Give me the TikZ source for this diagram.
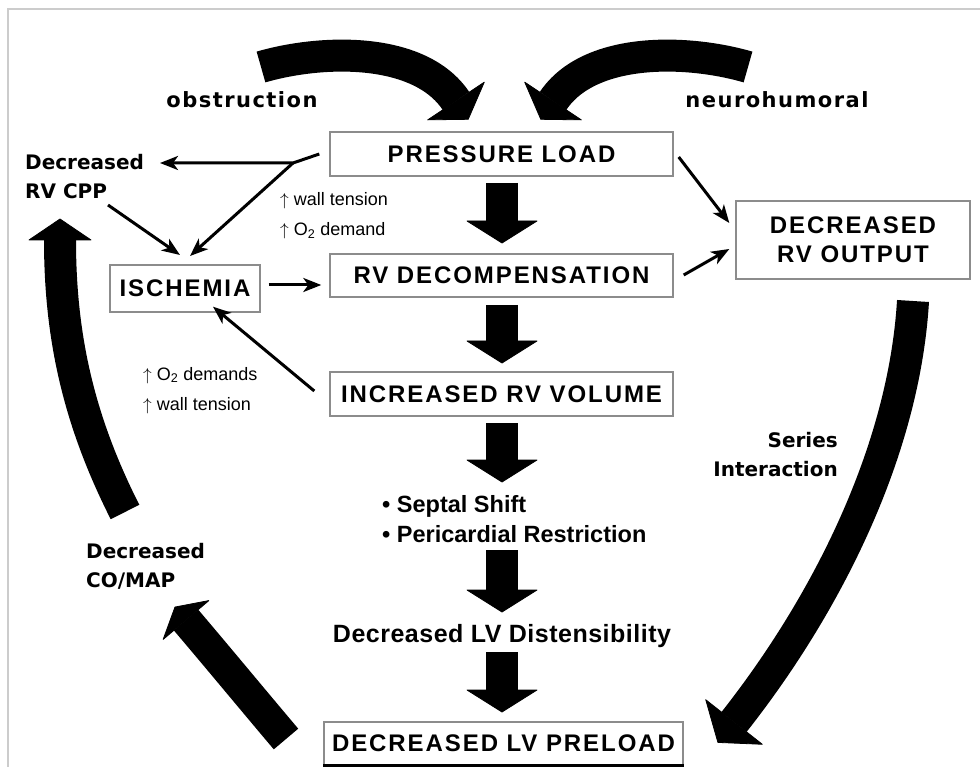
\documentclass[tikz,border=0pt]{standalone}
\usepackage{fontspec}
\setmainfont{Liberation Sans}
\usetikzlibrary{arrows.meta,calc}

% faces for the different label kinds
\newfontfamily\boxface[LetterSpace=8]{Liberation Sans}
\newfontfamily\topface[LetterSpace=7]{DejaVu Sans}
\newfontfamily\labface{DejaVu Sans}
\newfontfamily\midface[LetterSpace=2]{Liberation Sans}

\definecolor{framegray}{HTML}{CCCCCC}
\definecolor{boxgray}{HTML}{8C8C8C}

% broad block arrow: tail, two control points, base of head, half head width, head length
\newcommand\fatcurve[6]{%
  \draw[fatbody] (#1) .. controls (#2) and (#3) .. (#4);
  \fill[fathead] ($(#4)!#5!90:(#3)$) -- ($(#4)!#6!180:(#3)$) -- ($(#4)!#5!-90:(#3)$) -- cycle;}

\begin{document}
\begin{tikzpicture}[x=1pt,y=-1pt,
  box/.style={draw=boxgray,line width=1.4pt,inner sep=0pt,align=center,
    font=\boxface\bfseries\fontsize{24}{29}\selectfont},
  toplab/.style={inner sep=0pt,font=\topface\bfseries\fontsize{21}{29}\selectfont},
  lab/.style={inner sep=0pt,font=\labface\bfseries\fontsize{20}{29}\selectfont},
  midlab/.style={inner sep=0pt,font=\bfseries\fontsize{23.5}{30}\selectfont},
  biglab/.style={inner sep=0pt,font=\midface\bfseries\fontsize{25}{30}\selectfont},
  small/.style={inner sep=0pt,align=left,font=\fontsize{18}{30}\selectfont},
  link/.style={line width=3pt,line join=round,-{Stealth[length=18pt,width=14pt,inset=5pt]}},
  fatbody/.style={line width=32pt},
  fathead/.style={draw=black,line width=0.8pt,line join=round,fill=black}]

\useasboundingbox (0,0) rectangle (980,767);

% outer frame
\draw[framegray,line width=2pt] (8,767) -- (8,9) -- (980,9);

% boxes
\node[box,minimum width=343pt,minimum height=44pt] (pl)   at (501.5,154)   {PRESSURE LOAD};
\node[box,minimum width=343pt,minimum height=43pt] (rvd)  at (501.5,275.5) {RV DECOMPENSATION};
\node[box,minimum width=343pt,minimum height=44pt] (irv)  at (501.5,394)   {INCREASED RV VOLUME};
\node[box,minimum width=150pt,minimum height=47pt] (isch) at (185,288.5)   {ISCHEMIA};
\node[box,minimum width=234pt,minimum height=78pt] (dro)  at (853,240)     {DECREASED\\RV OUTPUT};
\node[box,minimum width=359pt,minimum height=43pt] (dlvp) at (503.5,743.5) {DECREASED LV PRELOAD};
\draw[line width=3pt] (dlvp.south west) -- (dlvp.south east);

% plain labels (multi-line ones are placed by the baseline of their last line)
\node[toplab,anchor=base] (obs)   at (242,108) {obstruction};
\node[toplab,anchor=base] (neuro) at (777,108) {neurohumoral};
\node[lab,anchor=base west,align=left]  (cpp)    at (25,199)  {Decreased\\RV CPP};
\node[lab,anchor=base west,align=left]  (comap)  at (86,587)  {Decreased\\CO/MAP};
\node[lab,anchor=base east,align=right] (series) at (838,476) {Series\\Interaction};
\node[midlab,anchor=base west,align=left] (septal) at (382,542)
  {\textbullet\ Septal Shift\\\textbullet\ Pericardial Restriction};
\node[biglab,anchor=base] (dlvd) at (502,642) {Decreased LV Distensibility};
\node[small,anchor=base west] (wt1) at (280,236)
  {$\uparrow$ wall tension\\$\uparrow$ O\textsubscript{2} demand};
\node[small,anchor=base west] (wt2) at (143,410)
  {$\uparrow$ O\textsubscript{2} demands\\$\uparrow$ wall tension};

% thin connectors
\coordinate (plout) at ([xshift=-10pt]pl.west);
\coordinate (j) at (293,163);
\coordinate (cppin) at (160,163);
\coordinate (cppout) at (108,205);
\coordinate (ischin1) at (190,256);
\coordinate (ischin2) at (180,255);
\draw[link] (plout) -- (j) -- (cppin);
\draw[link] (j) -- (ischin1);
\draw[link] (cppout) -- (ischin2);
\draw[link] ([shift={(8pt,3.5pt)}]isch.east) -- ([shift={(-8pt,-9.5pt)}]rvd.west);
\draw[link] ([shift={(-15pt,3pt)}]irv.west) -- ([shift={(28pt,6pt)}]isch.south);
\draw[link] ([shift={(5pt,-3pt)}]pl.east) -- ([shift={(-6pt,17pt)}]dro.west);
\draw[link] ([shift={(10pt,0.5pt)}]rvd.east) -- ([shift={(-6pt,-9pt)}]dro.west);

% central block arrows
\fatcurve{502,183}{502,183}{502,183}{502,221}{35pt}{22pt}
\fatcurve{502,305}{502,305}{502,305}{502,341}{35pt}{22pt}
\fatcurve{502,423}{502,423}{502,423}{502,460}{35pt}{22pt}
\fatcurve{502,550}{502,550}{502,550}{502,590}{35pt}{22pt}
\fatcurve{502,652}{502,652}{502,652}{502,690}{35pt}{22pt}

% curved block arrows of the outer loop
\fatcurve{261,67}{323,49}{420,47}{456,101}{34pt}{22pt}
\fatcurve{748,67}{686,49}{589,47}{553,101}{34pt}{22pt}
\fatcurve{125,512}{80,423}{60,340}{60,240}{31pt}{21pt}
\fatcurve{286,739}{253,700}{220,660}{186,620}{30pt}{17pt}
\fatcurve{913,301}{904,451}{827,604}{734,722}{36pt}{26pt}

\end{tikzpicture}
\end{document}
